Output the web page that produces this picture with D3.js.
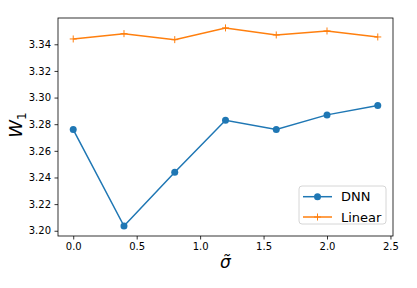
<!DOCTYPE html>
<html>
<head>
<meta charset="utf-8">
<script src="https://cdn.jsdelivr.net/npm/d3@7"></script>
<style>
  body { margin: 0; background: #fff; }
  svg { display: block; font-family: "DejaVu Sans", sans-serif; }
</style>
</head>
<body>
<div id="vis"></div>
<script>
const sigma = [0, 0.4, 0.8, 1.2, 1.6, 2.0, 2.4];
const dnnValues = [3.276, 3.2035, 3.244, 3.283, 3.276, 3.287, 3.294];
const linearValues = [3.344, 3.348, 3.3435, 3.3523, 3.347, 3.350, 3.3455];
const xTicks = [0.0, 0.5, 1.0, 1.5, 2.0, 2.5];
const yTicks = [3.20, 3.22, 3.24, 3.26, 3.28, 3.30, 3.32, 3.34];
const seriesNames = ["DNN", "Linear"];

const CONFIG = {
    colors: { dnn: "#1f77b4", linear: "#ff7f0e" },
    dims: { w: 417, h: 288, margin: { top: 18, right: 24, bottom: 52, left: 58 } }
};

const width = CONFIG.dims.w - CONFIG.dims.margin.left - CONFIG.dims.margin.right;
const height = CONFIG.dims.h - CONFIG.dims.margin.top - CONFIG.dims.margin.bottom;

const root = d3.select("#vis")
    .append("svg")
    .attr("width", CONFIG.dims.w)
    .attr("height", CONFIG.dims.h);

const svg = root.append("g")
    .attr("transform", `translate(${CONFIG.dims.margin.left},${CONFIG.dims.margin.top})`);

// matplotlib-like 5% padding
const pad = (lo, hi) => { const r = hi - lo; return [lo - r * 0.05, hi + r * 0.05]; };
const allY = dnnValues.concat(linearValues);

const xScale = d3.scaleLinear()
    .domain(pad(d3.min(sigma), d3.max(sigma)))
    .range([0, width]);

const yScale = d3.scaleLinear()
    .domain(pad(d3.min(allY), d3.max(allY)))
    .range([height, 0]);

const xAxis = svg.append("g")
    .attr("transform", `translate(0,${height})`)
    .call(d3.axisBottom(xScale).tickValues(xTicks).tickFormat(d3.format(".1f")).tickSizeOuter(0).tickSize(3.5).tickPadding(3.5));

const yAxis = svg.append("g")
    .call(d3.axisLeft(yScale).tickValues(yTicks).tickFormat(d3.format(".2f")).tickSizeOuter(0).tickSize(3.5).tickPadding(3.5));

[xAxis, yAxis].forEach(a => {
    a.select(".domain").remove();
    a.selectAll("text").attr("font-size", 10).attr("fill", "#000").attr("font-family", "DejaVu Sans");
    a.selectAll("line").attr("stroke", "#000").attr("stroke-width", 0.8);
});

const line = d3.line()
    .x((d, i) => xScale(sigma[i]))
    .y(d => yScale(d));

svg.append("path")
    .datum(linearValues)
    .attr("d", line)
    .attr("fill", "none")
    .attr("stroke", CONFIG.colors.linear)
    .attr("stroke-width", 1.5);

svg.selectAll(".lin-pt")
    .data(linearValues)
    .join("path")
    .attr("class", "lin-pt")
    .attr("d", (d, i) => `M${xScale(sigma[i]) - 3.5},${yScale(d)}h7M${xScale(sigma[i])},${yScale(d) - 3.5}v7`)
    .attr("stroke", CONFIG.colors.linear)
    .attr("stroke-width", 1);

svg.append("path")
    .datum(dnnValues)
    .attr("d", line)
    .attr("fill", "none")
    .attr("stroke", CONFIG.colors.dnn)
    .attr("stroke-width", 1.5);

svg.selectAll(".dnn-pt")
    .data(dnnValues)
    .join("circle")
    .attr("class", "dnn-pt")
    .attr("cx", (d, i) => xScale(sigma[i]))
    .attr("cy", d => yScale(d))
    .attr("r", 3.5)
    .attr("fill", CONFIG.colors.dnn);

// frame
svg.append("rect")
    .attr("width", width)
    .attr("height", height)
    .attr("fill", "none")
    .attr("stroke", "#000")
    .attr("stroke-width", 0.8);

// legend
const legend = svg.append("g").attr("transform", `translate(${width - 94},${height - 50})`);
legend.append("rect")
    .attr("x", 0).attr("y", 0)
    .attr("width", 87).attr("height", 38)
    .attr("rx", 3)
    .attr("fill", "#fff").attr("fill-opacity", 0.8)
    .attr("stroke", "#ccc").attr("stroke-width", 0.8);

const colors = [CONFIG.colors.dnn, CONFIG.colors.linear];
seriesNames.forEach((name, i) => {
    const y = 10.7 + i * 20.3;
    const g = legend.append("g");
    g.append("line")
        .attr("x1", 4).attr("x2", 33).attr("y1", y).attr("y2", y)
        .attr("stroke", colors[i]).attr("stroke-width", 1.5);
    if (i === 0) {
        g.append("circle").attr("cx", 18.5).attr("cy", y).attr("r", 3.5).attr("fill", colors[i]);
    } else {
        g.append("path")
            .attr("d", `M15,${y}h7M18.5,${y - 3.5}v7`)
            .attr("stroke", colors[i]).attr("stroke-width", 1);
    }
    g.append("text")
        .attr("x", 42).attr("y", y)
        .attr("dy", "0.36em")
        .attr("font-size", 13)
        .attr("fill", "#000")
        .text(name);
});

// axis labels
svg.append("text")
    .attr("x", width / 2)
    .attr("y", height + 32)
    .attr("text-anchor", "middle")
    .attr("font-size", 17)
    .attr("font-style", "italic")
    .attr("font-family", "DejaVu Sans")
    .text("\u03C3\u0303");

const ylab = root.append("text")
    .attr("transform", `translate(22,${CONFIG.dims.margin.top + height / 2 - 2}) rotate(-90)`)
    .attr("text-anchor", "middle")
    .attr("font-size", 18)
    .attr("font-style", "italic")
    .attr("font-family", "DejaVu Sans");
ylab.append("tspan").text("W");
ylab.append("tspan").attr("font-size", 12).attr("font-style", "normal").attr("dy", 4).text("1");
</script>
</body>
</html>
